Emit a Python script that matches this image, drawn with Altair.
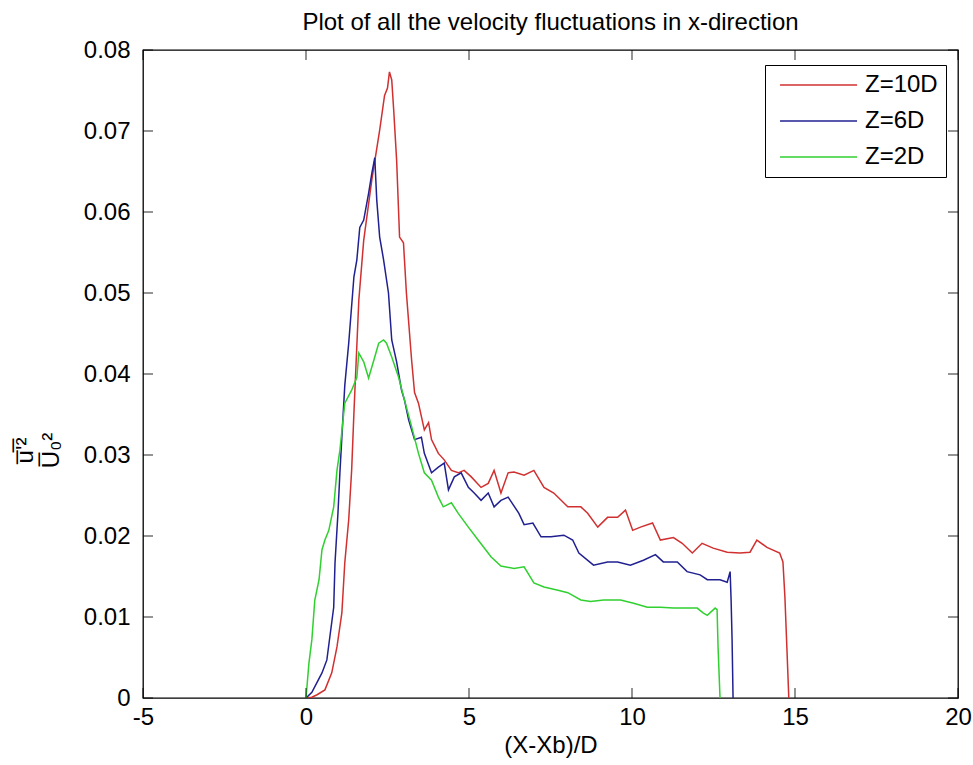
import altair as alt
import pandas as pd

# ---------------- data ----------------
x_ticks = [-5, 0, 5, 10, 15, 20]
y_ticks = [0, 0.01, 0.02, 0.03, 0.04, 0.05, 0.06, 0.07, 0.08]

series_names = ["Z=10D", "Z=6D", "Z=2D"]
series_colors = ["#d03030", "#202090", "#30d030"]

x_10D = [0.00, 0.18, 0.34, 0.58, 0.79, 0.95, 1.10, 1.19, 1.31, 1.40, 1.47, 1.62, 1.77, 2.02, 2.26,
         2.41, 2.50, 2.56, 2.63, 2.69, 2.78, 2.87, 2.99, 3.08, 3.24, 3.33, 3.45, 3.63, 3.76, 3.85,
         4.06, 4.24, 4.46, 4.67, 4.85, 5.07, 5.37, 5.59, 5.77, 5.98, 6.20, 6.38, 6.69, 6.99, 7.30,
         7.60, 8.03, 8.43, 8.64, 8.95, 9.25, 9.56, 9.80, 10.02, 10.26, 10.63, 10.87, 11.27, 11.54,
         11.85, 12.15, 12.49, 12.92, 13.31, 13.62, 13.83, 14.14, 14.53, 14.63, 14.69, 14.75, 14.81]
y_10D = [0.0000, 0.0001, 0.0004, 0.0010, 0.0031, 0.0063, 0.0105, 0.0167, 0.0220, 0.0281, 0.0352,
         0.0491, 0.0565, 0.0640, 0.0701, 0.0744, 0.0753, 0.0773, 0.0763, 0.0726, 0.0664, 0.0569,
         0.0562, 0.0500, 0.0417, 0.0377, 0.0364, 0.0331, 0.0340, 0.0319, 0.0302, 0.0294, 0.0281,
         0.0278, 0.0281, 0.0273, 0.0260, 0.0265, 0.0281, 0.0253, 0.0278, 0.0279, 0.0275, 0.0281,
         0.0260, 0.0253, 0.0236, 0.0236, 0.0228, 0.0211, 0.0223, 0.0223, 0.0232, 0.0207, 0.0211,
         0.0216, 0.0195, 0.0198, 0.0191, 0.0179, 0.0191, 0.0185, 0.0180, 0.0179, 0.0180, 0.0195,
         0.0186, 0.0179, 0.0168, 0.0125, 0.0063, 0.0000]

x_6D = [0.00, 0.18, 0.49, 0.64, 0.73, 0.85, 0.89, 0.98, 1.04, 1.10, 1.19, 1.31, 1.47, 1.56, 1.65,
        1.77, 1.92, 2.02, 2.11, 2.17, 2.26, 2.38, 2.53, 2.63, 2.78, 2.93, 3.02, 3.15, 3.33, 3.54,
        3.63, 3.85, 4.06, 4.24, 4.37, 4.55, 4.76, 4.98, 5.16, 5.37, 5.59, 5.77, 5.98, 6.20, 6.53,
        6.69, 6.96, 7.21, 7.51, 7.91, 8.18, 8.37, 8.82, 9.25, 9.56, 9.95, 10.35, 10.72, 10.96,
        11.39, 11.69, 12.09, 12.31, 12.70, 12.92, 13.01, 13.04, 13.07, 13.10]
y_6D = [0.0000, 0.0007, 0.0031, 0.0047, 0.0075, 0.0112, 0.0167, 0.0228, 0.0278, 0.0322, 0.0386,
        0.0438, 0.0520, 0.0541, 0.0581, 0.0590, 0.0623, 0.0648, 0.0667, 0.0615, 0.0569, 0.0541,
        0.0500, 0.0442, 0.0415, 0.0380, 0.0368, 0.0343, 0.0319, 0.0322, 0.0302, 0.0278, 0.0285,
        0.0290, 0.0257, 0.0273, 0.0278, 0.0260, 0.0253, 0.0244, 0.0253, 0.0236, 0.0244, 0.0248,
        0.0228, 0.0214, 0.0216, 0.0199, 0.0199, 0.0201, 0.0195, 0.0179, 0.0164, 0.0168, 0.0168,
        0.0164, 0.0170, 0.0177, 0.0168, 0.0168, 0.0156, 0.0152, 0.0146, 0.0146, 0.0143, 0.0156,
        0.0121, 0.0072, 0.0000]

x_2D = [0.00, 0.09, 0.18, 0.27, 0.40, 0.49, 0.58, 0.70, 0.85, 0.95, 1.04, 1.19, 1.40, 1.56, 1.62,
        1.77, 1.92, 2.08, 2.23, 2.38, 2.47, 2.63, 2.84, 3.02, 3.24, 3.45, 3.63, 3.85, 4.06, 4.21,
        4.46, 4.67, 4.98, 5.28, 5.68, 5.98, 6.38, 6.69, 6.99, 7.30, 7.73, 8.03, 8.43, 8.73, 9.13,
        9.65, 10.05, 10.47, 10.87, 11.27, 11.69, 12.00, 12.18, 12.31, 12.55, 12.61, 12.64, 12.70]
y_2D = [0.0000, 0.0043, 0.0072, 0.0121, 0.0146, 0.0183, 0.0195, 0.0207, 0.0236, 0.0281, 0.0306,
        0.0364, 0.0380, 0.0396, 0.0426, 0.0415, 0.0395, 0.0417, 0.0438, 0.0442, 0.0438, 0.0421,
        0.0396, 0.0368, 0.0335, 0.0302, 0.0278, 0.0269, 0.0248, 0.0236, 0.0241, 0.0228, 0.0211,
        0.0195, 0.0174, 0.0163, 0.0160, 0.0162, 0.0142, 0.0137, 0.0133, 0.0130, 0.0121, 0.0119,
        0.0121, 0.0121, 0.0117, 0.0112, 0.0112, 0.0111, 0.0111, 0.0111, 0.0105, 0.0102, 0.0111,
        0.0109, 0.0063, 0.0000]

rows = []
for name, xs, ys in [("Z=10D", x_10D, y_10D), ("Z=6D", x_6D, y_6D), ("Z=2D", x_2D, y_2D)]:
    for i, (a, b) in enumerate(zip(xs, ys)):
        rows.append({"series": name, "x": a, "y": b, "i": i})
df = pd.DataFrame(rows)

W, H = 815, 648
FONT = "Liberation Sans"
TL = 10  # tick length

xscale = alt.Scale(domain=[-5, 20], nice=False, zero=False)
yscale = alt.Scale(domain=[0, 0.08], nice=False, zero=False)

x_axis = alt.Axis(values=x_ticks, title="(X-Xb)/D", ticks=False, domain=False, grid=False,
                  labelExpr="datum.value < 0 ? '-' + toString(-datum.value) : toString(datum.value)",
                  labelPadding=7, labelFontSize=24, titleFontSize=24, titleFontWeight="normal",
                  titlePadding=4, labelColor="black", titleColor="black", labelFlush=False)
y_axis = alt.Axis(values=y_ticks, ticks=False, domain=False, grid=False,
                  labelExpr="datum.value == 0 ? '0' : format(datum.value, '.2f')",
                  labelPadding=13, labelFontSize=24, labelColor="black",
                  title=["u\u0305'\u0305\u00b2", "U\u0305\u2080\u00b2"],
                  titleFontSize=24, titleFontWeight="normal", titleColor="black",
                  titleAngle=270, titleX=-118, titleY=400, titleAlign="center",
                  titleBaseline="middle", labelFlush=False)

lines = alt.Chart(df).mark_line(strokeWidth=1.5, clip=True).encode(
    x=alt.X("x:Q", scale=xscale, axis=x_axis),
    y=alt.Y("y:Q", scale=yscale, axis=y_axis),
    color=alt.Color("series:N", scale=alt.Scale(domain=series_names, range=series_colors),
                    legend=alt.Legend(title=None, orient="none", legendX=622, legendY=15,
                                      symbolType="M-0.45,0L6.55,0", symbolSize=484,
                                      symbolStrokeWidth=1.5,
                                      labelFontSize=24, labelColor="black", labelOffset=68,
                                      padding=8, rowPadding=12, strokeColor="black",
                                      fillColor="white", labelFont=FONT)),
    order="i:Q",
)

xt = pd.DataFrame({"v": x_ticks})
yt = pd.DataFrame({"v": y_ticks})

bottom_ticks = alt.Chart(xt).mark_tick(color="black", thickness=1.2, size=TL, orient="vertical").encode(
    x=alt.X("v:Q", scale=xscale, axis=x_axis), y=alt.value(H - TL / 2))
top_ticks = alt.Chart(xt).mark_tick(color="black", thickness=1.2, size=TL, orient="vertical").encode(
    x=alt.X("v:Q", scale=xscale, axis=x_axis), y=alt.value(TL / 2))
left_ticks = alt.Chart(yt).mark_tick(color="black", thickness=1.2, size=TL, orient="horizontal").encode(
    y=alt.Y("v:Q", scale=yscale, axis=y_axis), x=alt.value(TL / 2))
right_ticks = alt.Chart(yt).mark_tick(color="black", thickness=1.2, size=TL, orient="horizontal").encode(
    y=alt.Y("v:Q", scale=yscale, axis=y_axis), x=alt.value(W - TL / 2))

chart = alt.layer(lines, bottom_ticks, top_ticks, left_ticks, right_ticks).properties(
    width=W, height=H,
    title=alt.TitleParams("Plot of all the velocity fluctuations in x-direction",
                          fontSize=24, fontWeight="normal", anchor="middle", offset=3,
                          color="black", font=FONT),
    autosize=alt.AutoSizeParams(type="none"),
    padding={"left": 143, "top": 50, "right": 15, "bottom": 67},
).configure(
    font=FONT, background="white"
).configure_view(
    stroke="black", strokeWidth=1.3
).configure_axis(
    labelFont=FONT, titleFont=FONT
)

chart.save("out.html", embed_options={"renderer": "svg", "actions": False})
